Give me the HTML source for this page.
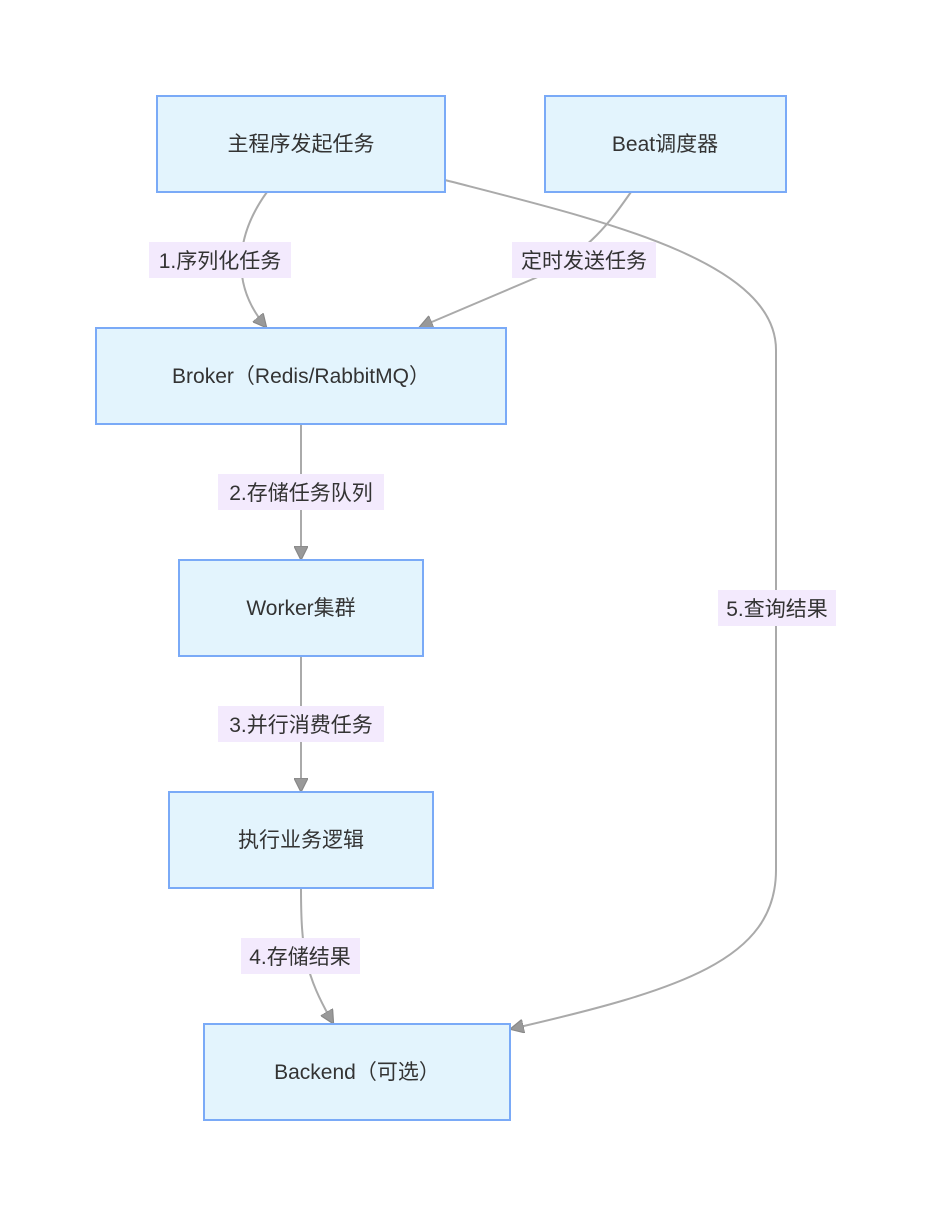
<!DOCTYPE html>
<html><head><meta charset="utf-8"><style>
body{margin:0;background:#fff}
text{font-family:"Liberation Sans","Noto Sans CJK SC",sans-serif;font-size:21px;fill:#333}
</style></head><body>
<svg width="932" height="1216" xmlns="http://www.w3.org/2000/svg">
<defs><marker id="a" viewBox="0 0 12 12" refX="11" refY="6" markerWidth="14" markerHeight="14" orient="auto" markerUnits="userSpaceOnUse"><path d="M0,0 L12,6 L0,12 z" fill="#999" stroke="#888"/></marker></defs>
<g fill="none" stroke="#aaa" stroke-width="2">
<path d="M267,192 C238,232 228,282 266,327" marker-end="url(#a)"/>
<path d="M631,192 C610,222 590,250 540,276 L420,327" marker-end="url(#a)"/>
<path d="M445,180 C600,220 776,260 776,350 L776,870 C776,960 680,990 511,1029" marker-end="url(#a)"/>
<path d="M301,424 L301,559" marker-end="url(#a)"/>
<path d="M301,656 L301,791" marker-end="url(#a)"/>
<path d="M301,888 C301,950 305,975 333,1023" marker-end="url(#a)"/>
</g>
<g fill="#e3f4fd" stroke="#7aaaf7" stroke-width="2">
<rect x="157" y="96" width="288" height="96"/>
<rect x="545" y="96" width="241" height="96"/>
<rect x="96" y="328" width="410" height="96"/>
<rect x="179" y="560" width="244" height="96"/>
<rect x="169" y="792" width="264" height="96"/>
<rect x="204" y="1024" width="306" height="96"/>
</g>
<g fill="#f3eafd">
<rect x="149" y="242" width="142" height="36"/>
<rect x="512" y="242" width="144" height="36"/>
<rect x="218" y="474" width="166" height="36"/>
<rect x="218" y="706" width="166" height="36"/>
<rect x="241" y="938" width="119" height="36"/>
<rect x="718" y="590" width="118" height="36"/>
</g>
<g text-anchor="middle">
<text x="301" y="151">主程序发起任务</text>
<text x="665" y="151">Beat调度器</text>
<text x="301" y="383">Broker（Redis/RabbitMQ）</text>
<text x="301" y="615">Worker集群</text>
<text x="301" y="847">执行业务逻辑</text>
<text x="357" y="1079">Backend（可选）</text>
<text x="220" y="268">1.序列化任务</text>
<text x="584" y="268">定时发送任务</text>
<text x="301" y="500">2.存储任务队列</text>
<text x="301" y="732">3.并行消费任务</text>
<text x="300" y="964">4.存储结果</text>
<text x="777" y="616">5.查询结果</text>
</g>
</svg>
</body></html>
